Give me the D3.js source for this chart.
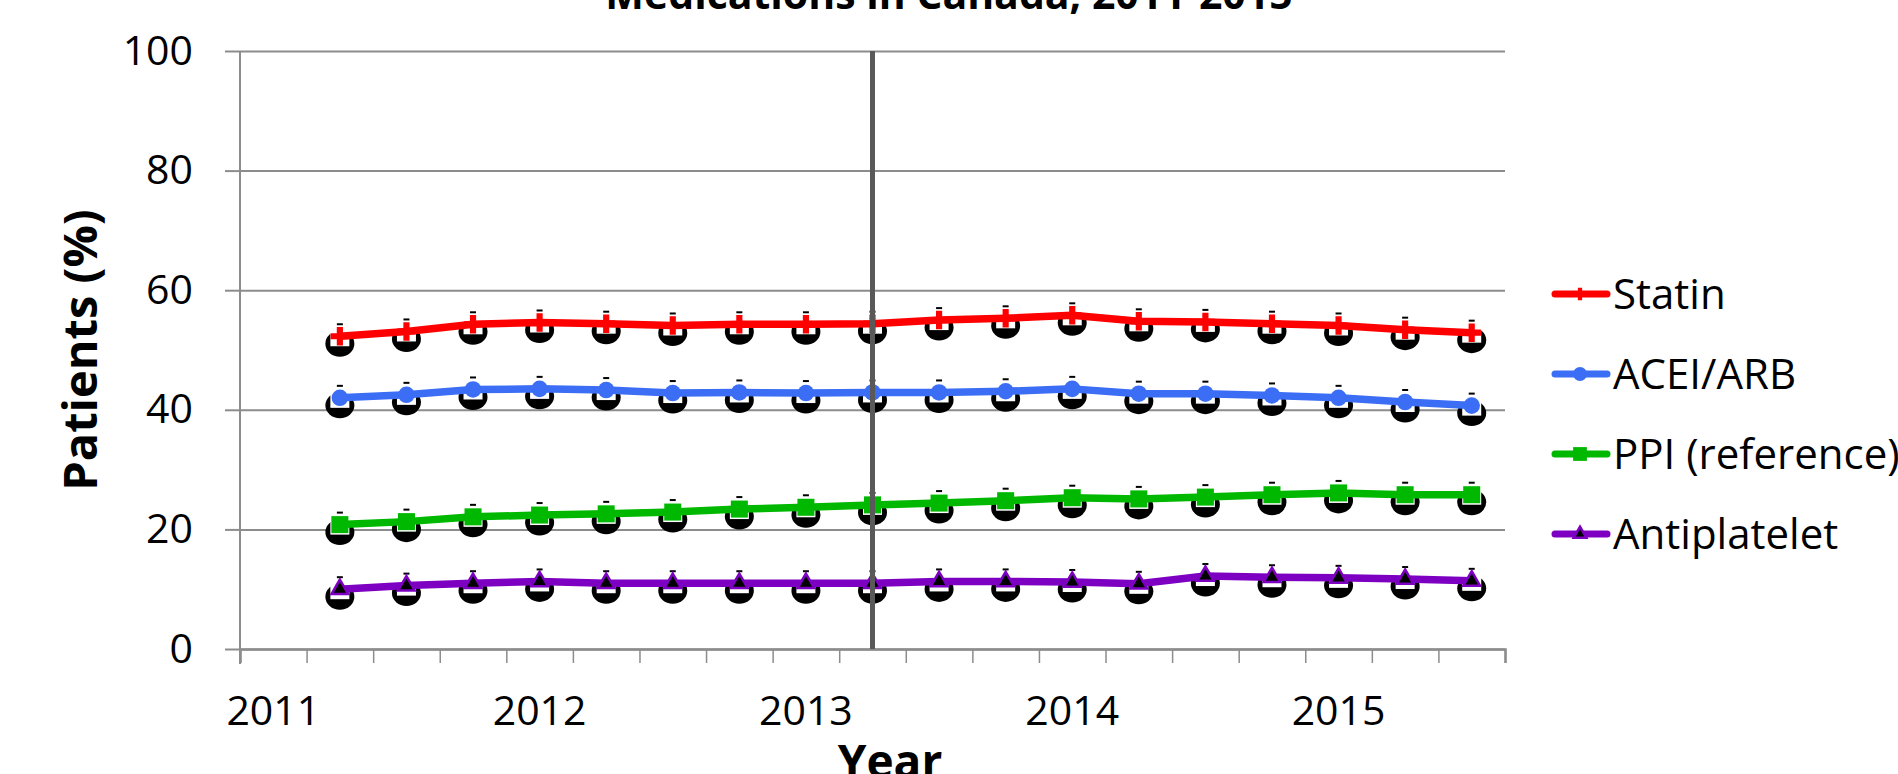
<!DOCTYPE html>
<html>
<head>
<meta charset="utf-8">
<script src="https://cdn.jsdelivr.net/npm/d3@7"></script>
<style>
  html, body { margin: 0; padding: 0; background: #ffffff; }
  svg { display: block; }
  text { font-family: "Open Sans", "Noto Sans", sans-serif; fill: #000; }
</style>
</head>
<body>
<svg id="chart" width="1898" height="774"></svg>
<script>
// Quarterly categories on the x axis (2011 Q1 has no observation)
const quarters = [
  "2011 Q1", "2011 Q2", "2011 Q3", "2011 Q4",
  "2012 Q1", "2012 Q2", "2012 Q3", "2012 Q4",
  "2013 Q1", "2013 Q2", "2013 Q3", "2013 Q4",
  "2014 Q1", "2014 Q2", "2014 Q3", "2014 Q4",
  "2015 Q1", "2015 Q2", "2015 Q3"
];
// Quarters carrying a year label
const yearTicks = ["2011 Q1", "2012 Q1", "2013 Q1", "2014 Q1", "2015 Q1"];
const yearLabels = ["2011", "2012", "2013", "2014", "2015"];
// Quarter marked by the vertical reference line
const markerQuarter = "2013 Q2";

// Observed quarters: 2011 Q2 .. 2015 Q3
const observedQuarters = quarters.slice(1);

// Percentage of patients on each medication class
const statin      = [52.3, 53.1, 54.3, 54.6, 54.4, 54.1, 54.3, 54.3, 54.4, 55.0, 55.3, 55.8, 54.8, 54.7, 54.4, 54.1, 53.4, 52.9];
const aceiArb     = [42.0, 42.5, 43.4, 43.5, 43.3, 42.8, 42.9, 42.8, 42.9, 42.9, 43.1, 43.5, 42.7, 42.7, 42.4, 42.0, 41.3, 40.7];
const ppi         = [20.8, 21.3, 22.1, 22.4, 22.6, 22.9, 23.4, 23.7, 24.1, 24.4, 24.8, 25.3, 25.1, 25.4, 25.8, 26.1, 25.8, 25.8];
const antiplatelet = [10.0, 10.6, 11.0, 11.3, 11.0, 11.0, 11.0, 11.0, 11.0, 11.3, 11.3, 11.2, 10.9, 12.2, 12.0, 11.9, 11.7, 11.4];

const seriesNames = ["Statin", "ACEI/ARB", "PPI (reference)", "Antiplatelet"];
const yTicks = [0, 20, 40, 60, 80, 100];

const series = [
  { name: seriesNames[0], values: statin,       color: "#ff0000", symbol: d3.symbolCross,    size: 190, legendSize: 90,  fill: "#ff0000", stroke: "none",    width: 0 },
  { name: seriesNames[1], values: aceiArb,      color: "#3b6ef5", symbol: d3.symbolCircle,   size: 215, legendSize: 150, fill: "#3b6ef5", stroke: "none",    width: 0 },
  { name: seriesNames[2], values: ppi,          color: "#00b800", symbol: d3.symbolSquare,   size: 290, legendSize: 190, fill: "#00b800", stroke: "none",    width: 0 },
  { name: seriesNames[3], values: antiplatelet, color: "#7d00c2", symbol: d3.symbolTriangle, size: 120, legendSize: 70,  fill: "#000000", stroke: "#7d00c2", width: 2.5 }
];

const svg = d3.select("#chart");

const plot = { left: 240, right: 1505, top: 51, bottom: 649 };

const x = d3.scaleBand().domain(quarters).range([plot.left, plot.right]).padding(0);
const xEdges = d3.scaleLinear().domain([0, quarters.length]).range([plot.left, plot.right]);
const y = d3.scaleLinear().domain([0, 100]).range([plot.bottom, plot.top]);
const cx = q => x(q) + x.bandwidth() / 2;

const gridColor = "#8c8c8c";

// Horizontal gridlines
const grid = svg.append("g")
  .attr("transform", `translate(${plot.left},0)`)
  .call(d3.axisLeft(y).tickValues(yTicks).tickSize(-(plot.right - plot.left)).tickFormat(""));
grid.select(".domain").remove();
grid.selectAll(".tick line").attr("stroke", gridColor).attr("stroke-width", 2);

// Y axis with outward ticks and labels
const yAxis = svg.append("g")
  .attr("transform", `translate(${plot.left},0)`)
  .call(d3.axisLeft(y).tickValues(yTicks).tickSize(15).tickSizeOuter(0).tickPadding(32));
yAxis.select(".domain").attr("stroke", gridColor).attr("stroke-width", 2)
  .attr("d", `M0,${plot.top}V${plot.bottom + 15}`);
yAxis.selectAll(".tick line").attr("stroke", gridColor).attr("stroke-width", 2);
yAxis.selectAll(".tick text").style("font-size", "41px").attr("fill", "#000")
  .style("font-family", "'Open Sans', sans-serif");

// X axis: tick marks on quarter boundaries
const xMarks = svg.append("g")
  .attr("transform", `translate(0,${plot.bottom})`)
  .call(d3.axisBottom(xEdges).tickValues(d3.range(0, quarters.length + 1)).tickSize(14).tickFormat(""));
xMarks.select(".domain").attr("stroke", gridColor).attr("stroke-width", 2.5);
xMarks.selectAll(".tick line").attr("stroke", gridColor).attr("stroke-width", 1.5);

// X axis: year labels centred on the first quarter of each year
const xLabels = svg.append("g")
  .attr("transform", `translate(0,${plot.bottom})`)
  .call(d3.axisBottom(x).tickValues(yearTicks).tickSize(0)
    .tickFormat(q => yearLabels[yearTicks.indexOf(q)]));
xLabels.select(".domain").remove();
xLabels.selectAll(".tick text")
  .attr("y", 76).attr("dy", 0)
  .style("font-size", "41px").attr("fill", "#000")
  .style("font-family", "'Open Sans', sans-serif");

// Marker shadows (black blob with a white backing square and a small cap)
const shadowLayer = svg.append("g");
series.forEach(s => {
  const pts = s.values.map((v, i) => ({ q: observedQuarters[i], v }));
  const g = shadowLayer.append("g");
  const sel = g.selectAll("g.pt").data(pts).join("g")
    .attr("class", "pt")
    .attr("transform", d => `translate(${cx(d.q)},${y(d.v)})`);
  sel.append("line")
    .attr("x1", -3).attr("x2", 3).attr("y1", -12).attr("y2", -12)
    .attr("stroke", "#000").attr("stroke-width", 2);
  sel.append("ellipse")
    .attr("cx", 0).attr("cy", 7.5).attr("rx", 14.5).attr("ry", 13)
    .attr("fill", "#000");
  sel.append("rect")
    .attr("x", -9.5).attr("y", -5.5).attr("width", 19).attr("height", 15.5)
    .attr("fill", "#fff");
});

// Series lines and markers
const line = d3.line()
  .x(d => cx(d.q))
  .y(d => y(d.v));

series.forEach(s => {
  const pts = s.values.map((v, i) => ({ q: observedQuarters[i], v }));
  svg.append("path")
    .datum(pts)
    .attr("d", line)
    .attr("fill", "none")
    .attr("stroke", s.color)
    .attr("stroke-width", 7.5)
    .attr("stroke-linejoin", "round");
  svg.append("g").selectAll("path").data(pts).join("path")
    .attr("d", d3.symbol().type(s.symbol).size(s.size))
    .attr("transform", d => `translate(${cx(d.q)},${y(d.v)})`)
    .attr("fill", s.fill)
    .attr("stroke", s.stroke)
    .attr("stroke-width", s.width);
});

// Vertical reference line
svg.append("line")
  .attr("x1", cx(markerQuarter)).attr("x2", cx(markerQuarter))
  .attr("y1", y(100)).attr("y2", y(0))
  .attr("stroke", "#595959").attr("stroke-width", 5);

// Legend
const legend = svg.append("g").attr("transform", "translate(1552,0)");
const legendRows = [294, 374, 454, 534];
series.forEach((s, i) => {
  const row = legend.append("g").attr("transform", `translate(0,${legendRows[i]})`);
  row.append("line")
    .attr("x1", 3).attr("x2", 55).attr("y1", 0).attr("y2", 0)
    .attr("stroke", s.color).attr("stroke-width", 7).attr("stroke-linecap", "round");
  row.append("path")
    .attr("d", d3.symbol().type(s.symbol).size(s.legendSize))
    .attr("transform", "translate(28,0)")
    .attr("fill", s.fill).attr("stroke", s.stroke).attr("stroke-width", s.width);
  row.append("text")
    .attr("x", 61).attr("y", 0).attr("dy", "0.36em")
    .style("font-size", "42px")
    .text(s.name);
});

// Titles
svg.append("text")
  .attr("x", 949).attr("y", 9)
  .attr("text-anchor", "middle")
  .style("font-size", "41px").style("font-weight", "bold")
  .text("Medications in Canada, 2011-2015");

svg.append("text")
  .attr("transform", "translate(97,350) rotate(-90)")
  .attr("text-anchor", "middle")
  .style("font-size", "47px").style("font-weight", "bold")
  .text("Patients (%)");

svg.append("text")
  .attr("x", 890).attr("y", 778)
  .attr("text-anchor", "middle")
  .style("font-size", "46px").style("font-weight", "bold")
  .text("Year");
</script>
</body>
</html>
